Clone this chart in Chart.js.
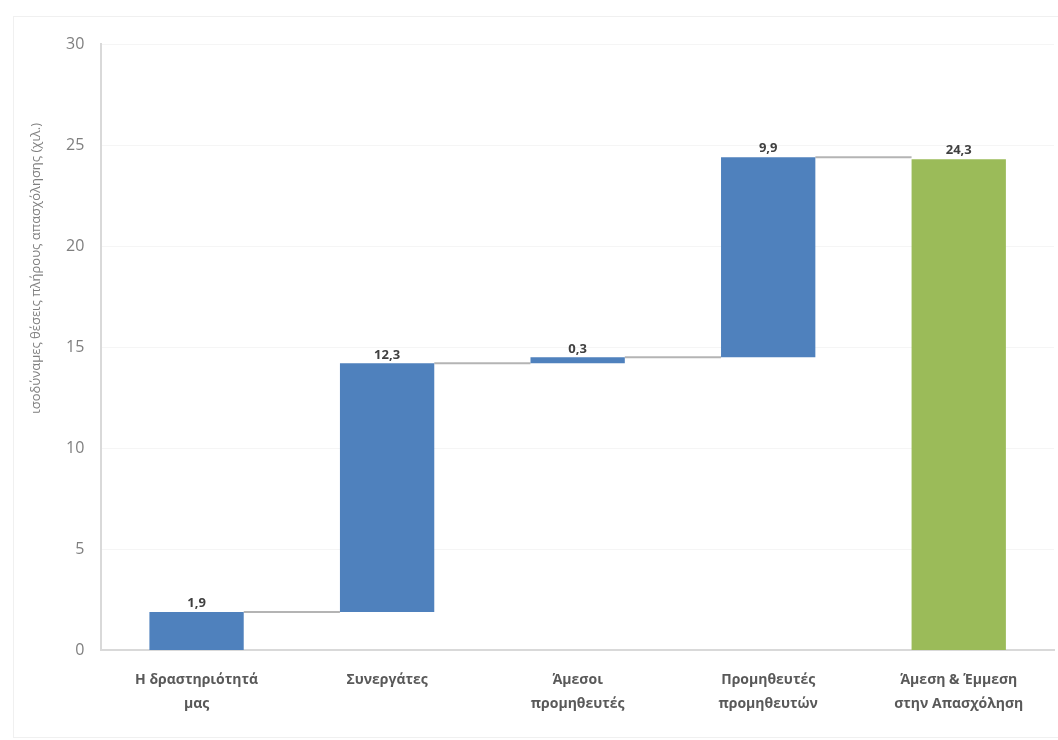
<!DOCTYPE html>
<html>
<head>
<meta charset="utf-8">
<script src="https://cdn.jsdelivr.net/npm/chart.js@4/dist/chart.umd.min.js"></script>
<style>
    html, body { margin: 0; padding: 0; background: #ffffff; }
    #wrap { width: 1058px; height: 740px; position: relative; }
    #frame { position: absolute; left: 13px; top: 16px; right: -2px; bottom: 2px; border: 1px solid #f0f0f0; pointer-events: none; }
</style>
</head>
<body>
<div id="wrap"><canvas id="chart"></canvas><div id="frame"></div></div>
<script>
var categories = [
    ['Η δραστηριότητά', 'μας'],
    'Συνεργάτες',
    ['Άμεσοι', 'προμηθευτές'],
    ['Προμηθευτές', 'προμηθευτών'],
    ['Άμεση & Έμμεση', 'στην Απασχόληση']
];
var barStart = [0, 1.9, 14.2, 14.5, 0];
var barEnd = [1.9, 14.2, 14.5, 24.4, 24.3];
var valueLabels = ['1,9', '12,3', '0,3', '9,9', '24,3'];
var barColors = ['#4f81bd', '#4f81bd', '#4f81bd', '#4f81bd', '#9bbb59'];
var yTicks = [0, 5, 10, 15, 20, 25, 30];
var yTitle = 'ισοδύναμες θέσεις πλήρους απασχόλησης (χιλ.)';

var FONT = '"Open Sans", "DejaVu Sans", sans-serif';

// gray connector lines between the top of one step and the next bar
var connectors = {
    id: 'connectors',
    beforeDatasetsDraw: function (chart) {
        var ctx = chart.ctx;
        var meta = chart.getDatasetMeta(0);
        var y = chart.scales.y;
        ctx.save();
        ctx.strokeStyle = '#b4b4b4';
        ctx.lineWidth = 2;
        for (var i = 0; i < meta.data.length - 1; i++) {
            var a = meta.data[i];
            var b = meta.data[i + 1];
            var level = y.getPixelForValue(barEnd[i]);
            ctx.beginPath();
            ctx.moveTo(a.x + a.width / 2, level);
            ctx.lineTo(b.x - b.width / 2, level);
            ctx.stroke();
        }
        ctx.restore();
    }
};

var valueText = {
    id: 'valueText',
    afterDatasetsDraw: function (chart) {
        var ctx = chart.ctx;
        var meta = chart.getDatasetMeta(0);
        var y = chart.scales.y;
        ctx.save();
        ctx.font = 'bold 13px ' + FONT;
        ctx.fillStyle = '#404040';
        ctx.textAlign = 'center';
        ctx.textBaseline = 'bottom';
        meta.data.forEach(function (bar, i) {
            ctx.fillText(valueLabels[i], bar.x, y.getPixelForValue(barEnd[i]) - 2);
        });
        ctx.restore();
    }
};

// y title sits above the middle of the axis, as in the original
var yTitleText = {
    id: 'yTitleText',
    afterDraw: function (chart) {
        var ctx = chart.ctx;
        var area = chart.chartArea;
        ctx.save();
        ctx.translate(36, area.top + (area.bottom - area.top) * 0.37);
        ctx.rotate(-Math.PI / 2);
        ctx.font = '13px ' + FONT;
        ctx.fillStyle = '#7f7f7f';
        ctx.textAlign = 'center';
        ctx.textBaseline = 'middle';
        ctx.fillText(yTitle, 0, 0);
        ctx.restore();
    }
};

new Chart(document.getElementById('chart'), {
    type: 'bar',
    data: {
        labels: categories,
        datasets: [{
            data: barStart.map(function (s, i) { return [s, barEnd[i]]; }),
            backgroundColor: barColors,
            borderWidth: 0,
            categoryPercentage: 1,
            barPercentage: 0.495
        }]
    },
    options: {
        responsive: true,
        maintainAspectRatio: false,
        animation: false,
        layout: { padding: { left: 49, top: 44, right: 4, bottom: 6 } },
        plugins: {
            legend: { display: false },
            tooltip: { enabled: false }
        },
        scales: {
            x: {
                grid: { display: false, drawTicks: false },
                border: { color: '#d9d9d9', width: 2 },
                ticks: {
                    color: '#595959',
                    padding: 18,
                    font: { family: FONT, size: 14, weight: 'bold', lineHeight: 1.7 }
                }
            },
            y: {
                min: 0,
                max: 30,
                afterBuildTicks: function (axis) {
                    axis.ticks = yTicks.map(function (v) { return { value: v }; });
                },
                grid: { color: '#f5f5f5', drawTicks: false },
                border: { color: '#d9d9d9', width: 2 },
                ticks: {
                    color: '#7f7f7f',
                    padding: 17,
                    font: { family: FONT, size: 16 }
                }
            }
        }
    },
    plugins: [connectors, valueText, yTitleText]
});
</script>
</body>
</html>
